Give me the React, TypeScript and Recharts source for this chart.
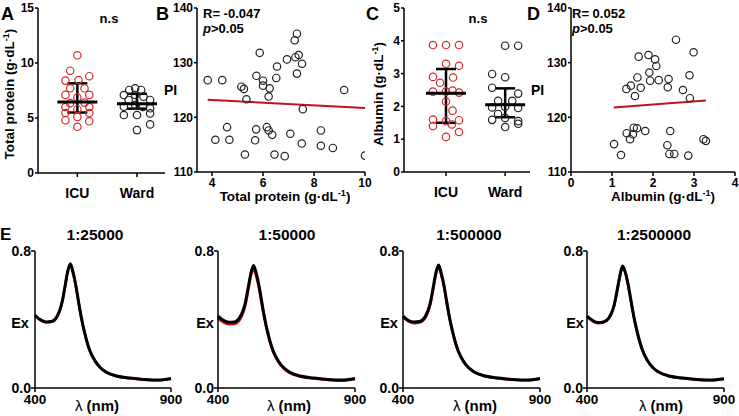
import React from 'react';
import { ScatterChart, Scatter, XAxis, YAxis, ErrorBar, ReferenceLine, LineChart, Line } from 'recharts';

const FONT = '"Liberation Sans", Arial, Helvetica, sans-serif';
const RED = '#d22d2d';
const LINE_RED = '#c4121c';

// ---------- Panel A: total protein ----------
const icuProtein = [10.7, 9.3, 8.8, 8.4, 8.45, 7.7, 7.7, 7.1, 7.1, 6.85, 6.35, 6.4, 6.0, 6.0, 5.8, 5.45, 5.45, 5.1, 4.8, 4.7, 4.2];
const icuProteinJitter = [0, -0.12, 0.2, -0.2, 0.02, -0.12, 0.12, -0.2, 0.2, 0, -0.12, 0.12, -0.2, 0.2, 0, -0.2, 0.2, 0, -0.2, 0.2, 0];
const wardProtein = [7.7, 7.55, 7.55, 7.09, 7.09, 6.94, 6.64, 6.64, 6.18, 6.03, 6.0, 5.88, 5.27, 5.27, 5.42, 4.42, 3.9];
const wardProteinJitter = [-0.03, -0.13, 0.07, -0.22, -0.03, 0.11, 0.22, -0.14, -0.03, -0.22, 0.1, 0.22, -0.22, 0, 0.22, 0.22, 0];
const proteinCenter = [6.45, 6.3];
const proteinLow = [5.5, 5.85];
const proteinHigh = [8.15, 7.2];

// ---------- Panel C: albumin ----------
const icuAlbumin = [3.87, 3.87, 3.87, 3.3, 3.24, 2.9, 2.88, 2.72, 2.45, 2.45, 2.42, 2.48, 2.15, 1.87, 1.6, 1.55, 1.58, 1.4, 1.45, 1.22, 1.07];
const icuAlbuminJitter = [-0.22, 0, 0.22, 0, 0.22, -0.22, 0.12, -0.1, -0.22, 0, 0.22, 0.11, 0, 0.11, -0.22, 0, 0.22, -0.22, 0.1, 0.22, 0];
const wardAlbumin = [3.85, 3.85, 2.99, 2.89, 2.57, 2.39, 2.17, 2.17, 1.97, 1.99, 1.95, 1.77, 1.59, 1.65, 1.55, 1.37, 1.47];
const wardAlbuminJitter = [0, 0.22, -0.22, 0, -0.22, 0.22, -0.12, 0.12, -0.22, 0, 0.22, -0.12, -0.22, 0, 0.22, 0, 0.22];
const albuminCenter = [2.4, 2.05];
const albuminLow = [1.5, 1.67];
const albuminHigh = [3.14, 2.55];

// ---------- Panel B: PI vs total protein ----------
const bProtein = [7.33, 7.24, 5.87, 7.4, 7.27, 6.94, 7.53, 6.55, 7.33, 5.74, 6.0, 3.83, 4.4, 6.52, 6.0, 5.15, 5.25, 6.26, 9.18, 6.22, 5.35, 7.56, 4.59, 5.73, 6.15, 6.22, 6.36, 7.07, 8.27, 4.13, 4.68, 5.69, 7.52, 8.27, 8.74, 5.29, 6.45, 6.85, 10.0];
const bPI = [135.3, 134.1, 131.8, 131.4, 131.0, 130.6, 129.8, 129.3, 128.0, 127.6, 126.7, 126.8, 126.8, 127.2, 125.8, 125.6, 125.2, 125.3, 125.0, 123.8, 123.3, 121.5, 118.2, 117.8, 118.2, 117.6, 116.8, 117.0, 117.6, 115.9, 115.9, 115.8, 115.2, 114.8, 114.4, 113.2, 113.2, 112.9, 113.0];
const bFitX = [3.83, 10.0];
const bFitY = [123.2, 121.7];

// ---------- Panel D: PI vs albumin ----------
const dAlbumin = [2.56, 2.99, 1.65, 1.89, 2.05, 2.08, 1.91, 1.62, 1.93, 2.14, 2.38, 2.89, 1.46, 1.35, 1.7, 2.36, 2.73, 1.56, 2.9, 1.53, 1.61, 1.81, 2.42, 1.36, 1.51, 1.44, 1.05, 2.35, 3.23, 3.29, 1.22, 2.4, 2.52, 2.86];
const dPI = [134.2, 131.9, 131.1, 131.4, 130.6, 129.4, 128.2, 127.3, 126.7, 126.8, 127.0, 127.7, 125.8, 125.2, 125.4, 125.5, 125.0, 123.9, 123.5, 118.1, 118.0, 117.5, 117.5, 117.1, 116.9, 116.0, 115.1, 114.9, 116.0, 115.7, 113.1, 113.3, 113.3, 113.0];
const dFitX = [1.04, 3.29];
const dFitY = [121.8, 123.1];

// ---------- Panel E: spectra ----------
const wavelengths = [400, 420, 440, 460, 480, 500, 510, 520, 530, 540, 550, 560, 570, 580, 600, 620, 640, 660, 700, 750, 800, 850, 900];
const e1Black = [0.425, 0.398, 0.386, 0.388, 0.415, 0.505, 0.59, 0.68, 0.725, 0.675, 0.6, 0.505, 0.415, 0.34, 0.225, 0.16, 0.12, 0.095, 0.07, 0.058, 0.05, 0.046, 0.055];
const e1Red = [0.423, 0.396, 0.384, 0.386, 0.413, 0.503, 0.588, 0.677, 0.721, 0.672, 0.597, 0.502, 0.412, 0.337, 0.223, 0.158, 0.118, 0.093, 0.069, 0.057, 0.049, 0.045, 0.054];
const e2Black = [0.42, 0.395, 0.384, 0.386, 0.413, 0.5, 0.585, 0.67, 0.715, 0.668, 0.595, 0.5, 0.41, 0.335, 0.222, 0.158, 0.118, 0.094, 0.07, 0.058, 0.05, 0.046, 0.056];
const e2Red = [0.407, 0.383, 0.372, 0.374, 0.4, 0.485, 0.568, 0.653, 0.694, 0.65, 0.58, 0.489, 0.401, 0.328, 0.217, 0.153, 0.114, 0.09, 0.067, 0.055, 0.047, 0.043, 0.053];
const e3Black = [0.42, 0.394, 0.385, 0.388, 0.414, 0.5, 0.585, 0.672, 0.718, 0.668, 0.596, 0.5, 0.41, 0.336, 0.223, 0.158, 0.118, 0.094, 0.07, 0.058, 0.05, 0.046, 0.056];
const e3Red = [0.414, 0.389, 0.379, 0.382, 0.407, 0.492, 0.576, 0.662, 0.706, 0.658, 0.588, 0.494, 0.405, 0.332, 0.22, 0.156, 0.116, 0.092, 0.068, 0.056, 0.048, 0.045, 0.054];
const e4Black = [0.42, 0.395, 0.382, 0.386, 0.41, 0.49, 0.57, 0.655, 0.713, 0.675, 0.605, 0.515, 0.425, 0.35, 0.232, 0.162, 0.12, 0.095, 0.07, 0.058, 0.05, 0.046, 0.054];
const e4Red = [0.417, 0.391, 0.378, 0.382, 0.407, 0.488, 0.568, 0.652, 0.71, 0.672, 0.602, 0.512, 0.422, 0.348, 0.23, 0.161, 0.119, 0.094, 0.069, 0.057, 0.049, 0.045, 0.053];
const dilutions = ['1:25000', '1:50000', '1:500000', '1:2500000'];

// ---------- layout helpers ----------
const PADL = 50, PADT = 12, PADR = 12, PADB = 34;
function box(x0: number, y0: number, x1: number, y1: number) {
  return {
    div: { position: 'absolute' as const, left: x0 - PADL, top: y0 - PADT },
    width: x1 - x0 + PADL + PADR,
    height: y1 - y0 + PADT + PADB,
    margin: { top: PADT, right: PADR, bottom: 0, left: 0 },
  };
}

const tickStyle = (size: number) => ({ fill: '#000', fontSize: size, fontWeight: 700, fontFamily: FONT });
const axisLine = { stroke: '#000', strokeWidth: 1.5 };

const ring = (color: string) => (p: any) => (
  <circle cx={p.cx} cy={p.cy} r={3.7} fill="none" stroke={color} strokeWidth={1.2} />
);
const meanBar = (p: any) => (
  <line x1={p.cx - 20} x2={p.cx + 20} y1={p.cy} y2={p.cy} stroke="#000" strokeWidth={3} />
);

const groupPoints = (vals: number[], jit: number[], g: number) => vals.map((v, i) => ({ x: g + jit[i], y: v }));
const summary = (c: number[], lo: number[], hi: number[]) =>
  c.map((v, i) => ({ x: i + 1, y: v, err: [v - lo[i], hi[i] - v] }));

function DotPlot(props: any) {
  const { x0, y0, x1, y1, icu, ward, sum, yMax, yTicks, xDomain } = props;
  const b = box(x0, y0, x1, y1);
  return (
    <div style={b.div}>
      <ScatterChart width={b.width} height={b.height} margin={b.margin}>
        <XAxis type="number" dataKey="x" domain={xDomain} ticks={[1, 2]} interval={0}
          tickFormatter={(v: number) => (v === 1 ? 'ICU' : 'Ward')}
          tick={tickStyle(14)} tickSize={4} tickMargin={11} axisLine={axisLine}
          tickLine={axisLine} height={PADB} allowDataOverflow />
        <YAxis type="number" dataKey="y" domain={[0, yMax]} ticks={yTicks} interval={0}
          tick={tickStyle(12)} tickSize={3} tickMargin={1} axisLine={axisLine}
          tickLine={axisLine} width={PADL} allowDataOverflow />
        <Scatter data={icu} shape={ring(RED)} isAnimationActive={false} />
        <Scatter data={ward} shape={ring('#222')} isAnimationActive={false} />
        <Scatter data={sum} shape={meanBar} isAnimationActive={false}>
          <ErrorBar dataKey="err" direction="y" width={10} stroke="#000" strokeWidth={2.5} />
        </Scatter>
      </ScatterChart>
    </div>
  );
}

function Corr(props: any) {
  const { x0, y0, x1, y1, xs, ys, fx, fy, xDomain, xTicks } = props;
  const b = box(x0, y0, x1, y1);
  const pts = xs.map((x: number, i: number) => ({ x, y: ys[i] }));
  return (
    <div style={b.div}>
      <ScatterChart width={b.width} height={b.height} margin={b.margin}>
        <XAxis type="number" dataKey="x" domain={xDomain} ticks={xTicks} interval={0}
          tick={tickStyle(12)} tickSize={4} tickMargin={2} axisLine={axisLine}
          tickLine={axisLine} height={PADB} allowDataOverflow />
        <YAxis type="number" dataKey="y" domain={[110, 140]} ticks={[110, 120, 130, 140]} interval={0}
          tick={tickStyle(12)} tickSize={3} tickMargin={1} axisLine={axisLine}
          tickLine={axisLine} width={PADL} allowDataOverflow />
        <ReferenceLine segment={[{ x: fx[0], y: fy[0] }, { x: fx[1], y: fy[1] }]}
          stroke={LINE_RED} strokeWidth={2} ifOverflow="visible" />
        <Scatter data={pts} shape={ring('#222')} isAnimationActive={false} />
      </ScatterChart>
    </div>
  );
}

function Spectrum(props: any) {
  const { x0, y0, x1, y1, black, red } = props;
  const b = box(x0, y0, x1, y1);
  const rows = wavelengths.map((w, i) => ({ w, k: black[i], r: red[i] }));
  return (
    <div style={b.div}>
      <LineChart width={b.width} height={b.height} margin={b.margin} data={rows}>
        <XAxis type="number" dataKey="w" domain={[400, 900]} ticks={[400, 900]} interval={0}
          tick={tickStyle(13.5)} tickSize={4} tickMargin={2} axisLine={axisLine}
          tickLine={axisLine} height={PADB} />
        <YAxis type="number" domain={[0, 0.8]} ticks={[0, 0.8]} interval={0}
          tickFormatter={(v: number) => v.toFixed(1)}
          tick={tickStyle(14)} tickSize={4} tickMargin={0} axisLine={axisLine}
          tickLine={axisLine} width={PADL} />
        <Line dataKey="r" type="monotone" stroke={LINE_RED} strokeWidth={2.6} dot={false} isAnimationActive={false} />
        <Line dataKey="k" type="monotone" stroke="#000" strokeWidth={3} dot={false} isAnimationActive={false} />
      </LineChart>
    </div>
  );
}

const T = (p: any) => (
  <text fontFamily={FONT} fontWeight={700} fill="#000" {...p} />
);
const unit = (
  <>
    <tspan>(g·dL</tspan>
    <tspan dy={-5} fontSize={9}>-1</tspan>
    <tspan dy={5}>)</tspan>
  </>
);

export default function App() {
  const eX = [[35, 171], [218, 355], [403, 540], [587, 724]];
  const eBlack = [e1Black, e2Black, e3Black, e4Black];
  const eRed = [e1Red, e2Red, e3Red, e4Red];
  const titleX = [95, 287, 469, 654];
  const exX = [20, 205, 389, 575];
  const lamX = [97, 289, 475, 661];
  return (
    <div style={{ position: 'absolute', left: 0, top: 0, width: 739, height: 416, background: '#fff', overflow: 'hidden' }}>
      <DotPlot x0={38} y0={8} x1={165} y1={173}
        icu={groupPoints(icuProtein, icuProteinJitter, 1)}
        ward={groupPoints(wardProtein, wardProteinJitter, 2)}
        sum={summary(proteinCenter, proteinLow, proteinHigh)}
        yMax={15} yTicks={[0, 5, 10, 15]} xDomain={[0.34, 2.47]} />
      <Corr x0={197} y0={8} x1={365} y1={172} xs={bProtein} ys={bPI} fx={bFitX} fy={bFitY}
        xDomain={[3.41, 10]} xTicks={[4, 6, 8, 10]} />
      <DotPlot x0={404} y0={8} x1={530} y1={172}
        icu={groupPoints(icuAlbumin, icuAlbuminJitter, 1)}
        ward={groupPoints(wardAlbumin, wardAlbuminJitter, 2)}
        sum={summary(albuminCenter, albuminLow, albuminHigh)}
        yMax={5} yTicks={[0, 1, 2, 3, 4, 5]} xDomain={[0.29, 2.42]} />
      <Corr x0={571} y0={8} x1={735} y1={172} xs={dAlbumin} ys={dPI} fx={dFitX} fy={dFitY}
        xDomain={[0, 4]} xTicks={[0, 1, 2, 3, 4]} />
      {eX.map((r, i) => (
        <Spectrum key={i} x0={r[0]} y0={251} x1={r[1]} y1={388} black={eBlack[i]} red={eRed[i]} />
      ))}
      <svg width={739} height={416} style={{ position: 'absolute', left: 0, top: 0, pointerEvents: 'none' }}>
        <T x={1} y={20} fontSize={18}>A</T>
        <T x={156} y={20} fontSize={18}>B</T>
        <T x={366} y={20} fontSize={18}>C</T>
        <T x={527} y={20} fontSize={18}>D</T>
        <T x={0} y={240} fontSize={17}>E</T>
        <T x={109} y={23} fontSize={13} textAnchor="middle">n.s</T>
        <T x={478} y={23} fontSize={13} textAnchor="middle">n.s</T>
        <T x={203} y={18} fontSize={13}>R= -0.047</T>
        <T x={203} y={33} fontSize={13}><tspan fontStyle="italic">p</tspan>&gt;0.05</T>
        <T x={572} y={18} fontSize={13}>R= 0.052</T>
        <T x={572} y={33} fontSize={13}><tspan fontStyle="italic">p</tspan>&gt;0.05</T>
        <T x={164} y={95} fontSize={14}>PI</T>
        <T x={531} y={95} fontSize={14}>PI</T>
        <T transform="translate(9,94) rotate(-90)" textAnchor="middle" dy="0.35em" fontSize={13.5}>
          <tspan>Total protein </tspan>{unit}
        </T>
        <T transform="translate(378,94) rotate(-90)" textAnchor="middle" dy="0.35em" fontSize={13.5}>
          <tspan>Albumin </tspan>{unit}
        </T>
        <T x={285} y={201} fontSize={13.5} textAnchor="middle"><tspan>Total protein </tspan>{unit}</T>
        <T x={663} y={201} fontSize={13.5} textAnchor="middle"><tspan>Albumin </tspan>{unit}</T>
        {dilutions.map((d, i) => (
          <T key={d} x={titleX[i]} y={240} fontSize={15.5} textAnchor="middle">{d}</T>
        ))}
        {exX.map((x, i) => (
          <T key={'ex' + i} x={x} y={328} fontSize={14.5} textAnchor="middle">Ex</T>
        ))}
        {lamX.map((x, i) => (
          <T key={'l' + i} x={x} y={411} fontSize={15} textAnchor="middle">
            <tspan fontWeight={400}>λ</tspan> (nm)
          </T>
        ))}
      </svg>
    </div>
  );
}
